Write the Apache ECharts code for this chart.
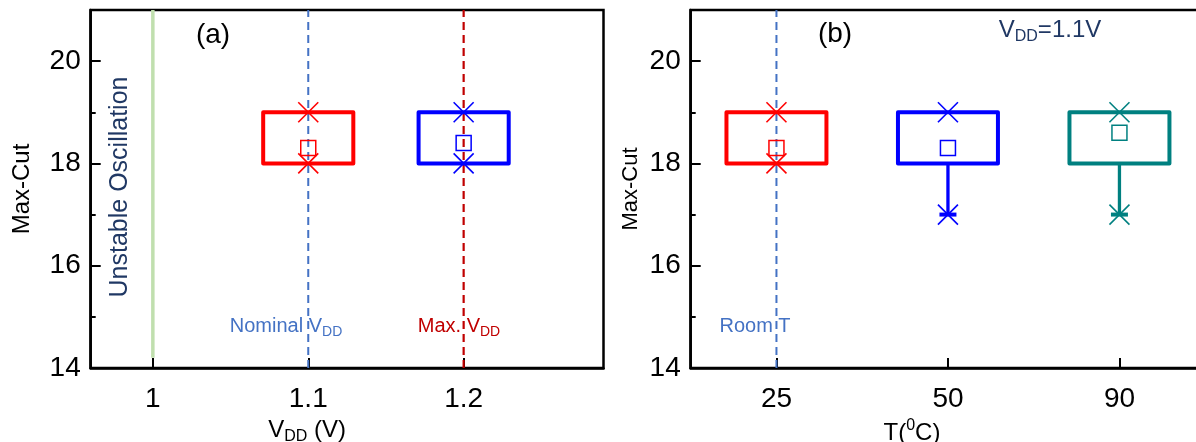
<!DOCTYPE html>
<html><head><meta charset="utf-8">
<script src="https://cdn.jsdelivr.net/npm/echarts@6/dist/echarts.min.js"></script>
<style>html,body{margin:0;padding:0;background:#fff}#c{width:1196px;height:442px}</style>
</head><body><div id="c"></div>
<script>
// ---- Panel (a): supply-voltage sweep ----
const vddValues = [1.1, 1.2];
const vddTickValues = [1, 1.1, 1.2];
const vddQ1 = [18, 18];
const vddQ3 = [19, 19];
const vddMin = [18, 18];
const vddMax = [19, 19];
const vddMean = [18.3, 18.4];
const unstableVdd = 1.0;
const nominalVdd = 1.1;
const maxVdd = 1.2;
// ---- Panel (b): temperature sweep (VDD = 1.1 V) ----
const tempCategories = ['25', '50', '90'];
const tempQ1 = [18, 18, 18];
const tempQ3 = [19, 19, 19];
const tempMin = [18, 17, 17];
const tempMax = [19, 19, 19];
const tempMean = [18.3, 18.3, 18.6];
const roomTempIndex = 0;
// ---- shared y axis ----
const yMin = 14, yMax = 21, yInterval = 2;
const yMinorTicks = [15, 17, 19];

const FONT = '"Liberation Sans", Arial, sans-serif';
const colorsA = ['#ff0000', '#0000ff'];
const colorsB = ['#ff0000', '#0000ff', '#008080'];

function renderBox(widthUnits) {
  return function (params, api) {
    const x = api.value(0);
    const q1 = api.value(1), q3 = api.value(2), lo = api.value(3), hi = api.value(4), mean = api.value(5);
    const color = api.visual('color');
    const hw = api.size([1, 0])[0] * widthUnits / 2;
    const pTop = api.coord([x, q3]);
    const pBot = api.coord([x, q1]);
    const cx = pTop[0];
    const children = [];
    children.push({
      type: 'rect',
      shape: { x: cx - hw, y: pTop[1], width: 2 * hw, height: pBot[1] - pTop[1] },
      style: { fill: 'none', stroke: color, lineWidth: 4, lineJoin: 'round' }
    });
    function whisker(fromY, v) {
      const p = api.coord([x, v]);
      children.push({ type: 'line', shape: { x1: cx, y1: fromY, x2: cx, y2: p[1] },
        style: { stroke: color, lineWidth: 3.3 } });
      children.push({ type: 'line', shape: { x1: cx - 8.5, y1: p[1], x2: cx + 8.5, y2: p[1] },
        style: { stroke: color, lineWidth: 4 } });
    }
    if (lo < q1) whisker(pBot[1], lo);
    if (hi > q3) whisker(pTop[1], hi);
    function cross(v) {
      const p = api.coord([x, v]);
      const s = 10;
      children.push({ type: 'line', shape: { x1: cx - s, y1: p[1] - s, x2: cx + s, y2: p[1] + s },
        style: { stroke: color, lineWidth: 1.6 } });
      children.push({ type: 'line', shape: { x1: cx - s, y1: p[1] + s, x2: cx + s, y2: p[1] - s },
        style: { stroke: color, lineWidth: 1.6 } });
    }
    cross(lo);
    cross(hi);
    const pm = api.coord([x, mean]);
    children.push({
      type: 'rect',
      shape: { x: cx - 7.5, y: pm[1] - 7.5, width: 15, height: 15 },
      style: { fill: 'none', stroke: color, lineWidth: 1.5 }
    });
    return { type: 'group', children: children };
  };
}

const boxDataA = vddValues.map((v, i) => ({
  value: [v, vddQ1[i], vddQ3[i], vddMin[i], vddMax[i], vddMean[i]],
  itemStyle: { color: colorsA[i] }
}));
const boxDataB = tempCategories.map((c, i) => ({
  value: [i, tempQ1[i], tempQ3[i], tempMin[i], tempMax[i], tempMean[i]],
  itemStyle: { color: colorsB[i] }
}));

function yAxisMain(gridIndex, nameGap, nameSize) {
  return {
    type: 'value', gridIndex: gridIndex, min: yMin, max: yMax, interval: yInterval,
    axisLine: { show: true, lineStyle: { color: '#000', width: 2.5 } },
    axisTick: { show: true, inside: true, length: 10, lineStyle: { color: '#000', width: 2 } },
    axisLabel: { fontSize: 28, color: '#000', margin: 10, fontFamily: FONT, showMaxLabel: false },
    splitLine: { show: false },
    name: 'Max-Cut', nameLocation: 'middle', nameGap: nameGap,
    nameTextStyle: { fontSize: nameSize, color: '#000', fontFamily: FONT }
  };
}
function yAxisMinor(gridIndex) {
  return {
    type: 'value', gridIndex: gridIndex, min: yMin, max: yMax, position: 'left',
    axisLine: { show: false },
    axisTick: { show: true, inside: true, length: 5, customValues: yMinorTicks,
      lineStyle: { color: '#000', width: 2 } },
    axisLabel: { show: false },
    splitLine: { show: false }
  };
}

const option = {
  animation: false,
  backgroundColor: '#fff',
  textStyle: { fontFamily: FONT },
  grid: [
    { left: 90.7, top: 10, width: 512.8, height: 358, show: true, borderColor: '#000', borderWidth: 2.5,
      containLabel: false, outerBoundsMode: 'none' },
    { left: 690.7, top: 10, width: 514.5, height: 358, show: true, borderColor: '#000', borderWidth: 2.5,
      containLabel: false, outerBoundsMode: 'none' }
  ],
  xAxis: [
    {
      type: 'value', gridIndex: 0, min: 0.96, max: 1.29,
      axisLine: { show: true, onZero: false, lineStyle: { color: '#000', width: 2.5 } },
      axisTick: { show: true, inside: true, length: 10, customValues: vddTickValues,
        lineStyle: { color: '#000', width: 2 } },
      axisLabel: { fontSize: 28, color: '#000', margin: 17, fontFamily: FONT,
        customValues: vddTickValues, formatter: v => String(v) },
      splitLine: { show: false },
      name: '{n|V}{s|DD}{n| (V)}', nameLocation: 'middle', nameGap: 47,
      nameTextStyle: {
        padding: [0, 80, 0, 0],
        rich: {
          n: { fontSize: 24, color: '#000', fontFamily: FONT, lineHeight: 30 },
          s: { fontSize: 16, color: '#000', fontFamily: FONT, lineHeight: 14, verticalAlign: 'bottom' }
        }
      }
    },
    {
      type: 'category', gridIndex: 1, data: tempCategories, boundaryGap: true,
      axisLine: { show: true, onZero: false, lineStyle: { color: '#000', width: 2.5 } },
      axisTick: { show: true, inside: true, length: 10, alignWithLabel: true,
        lineStyle: { color: '#000', width: 2 } },
      axisLabel: { fontSize: 28, color: '#000', margin: 17, fontFamily: FONT },
      splitLine: { show: false },
      name: '{n|T(}{s|0}{n|C)}', nameLocation: 'middle', nameGap: 47,
      nameTextStyle: {
        padding: [0, 72, 0, 0],
        rich: {
          n: { fontSize: 24, color: '#000', fontFamily: FONT, lineHeight: 30 },
          s: { fontSize: 16, color: '#000', fontFamily: FONT, lineHeight: 16, verticalAlign: 'top' }
        }
      }
    }
  ],
  yAxis: [yAxisMain(0, 56, 24), yAxisMinor(0), yAxisMain(1, 49, 22), yAxisMinor(1)],
  series: [
    {
      type: 'line', xAxisIndex: 0, yAxisIndex: 0, symbol: 'none', silent: true, z: 1,
      data: [[unstableVdd, 14.2], [unstableVdd, yMax]],
      lineStyle: { color: '#c0dfae', width: 3.5 }
    },
    {
      type: 'line', xAxisIndex: 0, yAxisIndex: 0, symbol: 'none', silent: true, z: 1,
      data: [[nominalVdd, yMin], [nominalVdd, yMax]],
      lineStyle: { color: '#4472c4', width: 2, type: [8, 5] }
    },
    {
      type: 'line', xAxisIndex: 0, yAxisIndex: 0, symbol: 'none', silent: true, z: 1,
      data: [[maxVdd, yMin], [maxVdd, yMax]],
      lineStyle: { color: '#c00000', width: 2.2, type: [8, 5] }
    },
    {
      type: 'line', xAxisIndex: 1, yAxisIndex: 2, symbol: 'none', silent: true, z: 1,
      data: [[roomTempIndex, yMin], [roomTempIndex, yMax]],
      lineStyle: { color: '#4472c4', width: 2, type: [8, 5] }
    },
    {
      type: 'custom', xAxisIndex: 0, yAxisIndex: 0, z: 3,
      renderItem: renderBox(0.058), encode: { x: 0, y: [1, 2, 3, 4, 5] },
      data: boxDataA
    },
    {
      type: 'custom', xAxisIndex: 1, yAxisIndex: 2, z: 3,
      renderItem: renderBox(0.583), encode: { x: 0, y: [1, 2, 3, 4, 5] },
      data: boxDataB
    }
  ],
  graphic: [
    { type: 'text', x: 213, y: 35, style: { text: '(a)', font: '28px ' + FONT, fill: '#000', align: 'center', verticalAlign: 'middle' } },
    { type: 'text', x: 835, y: 34, style: { text: '(b)', font: '28px ' + FONT, fill: '#000', align: 'center', verticalAlign: 'middle' } },
    { type: 'text', x: 120, y: 187, rotation: Math.PI / 2, style: { text: 'Unstable Oscillation', font: '25px ' + FONT, fill: '#203864', align: 'center', verticalAlign: 'middle' } },
    { type: 'text', x: 286, y: 326, style: {
        text: '{n|Nominal V}{s|DD}', align: 'center', verticalAlign: 'middle',
        rich: { n: { fontSize: 20, fontFamily: FONT, fill: '#4472c4', lineHeight: 26 },
                s: { fontSize: 14, fontFamily: FONT, fill: '#4472c4', lineHeight: 12, verticalAlign: 'bottom' } } } },
    { type: 'text', x: 459, y: 326, style: {
        text: '{n|Max. V}{s|DD}', align: 'center', verticalAlign: 'middle',
        rich: { n: { fontSize: 20, fontFamily: FONT, fill: '#c00000', lineHeight: 26 },
                s: { fontSize: 14, fontFamily: FONT, fill: '#c00000', lineHeight: 12, verticalAlign: 'bottom' } } } },
    { type: 'text', x: 755, y: 326, style: { text: 'Room T', font: '20px ' + FONT, fill: '#4472c4', align: 'center', verticalAlign: 'middle' } },
    { type: 'text', x: 1050, y: 30, style: {
        text: '{n|V}{s|DD}{n|=1.1V}', align: 'center', verticalAlign: 'middle',
        rich: { n: { fontSize: 24, fontFamily: FONT, fill: '#203864', lineHeight: 30 },
                s: { fontSize: 16, fontFamily: FONT, fill: '#203864', lineHeight: 14, verticalAlign: 'bottom' } } } }
  ]
};

const chart = echarts.init(document.getElementById('c'));
chart.setOption(option);
</script>
</body></html>
